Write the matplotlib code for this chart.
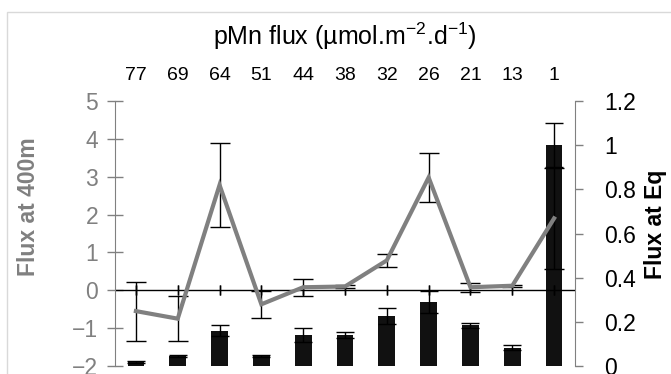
import matplotlib
matplotlib.use('Agg')
import matplotlib.pyplot as plt
from matplotlib.patches import Rectangle

plt.rcParams['font.family'] = ['Liberation Sans', 'DejaVu Sans']
plt.rcParams['mathtext.fontset'] = 'custom'
plt.rcParams['mathtext.rm'] = 'Liberation Sans'
plt.rcParams['mathtext.it'] = 'Liberation Sans:italic'
plt.rcParams['mathtext.bf'] = 'Liberation Sans:bold'

categories = ['77', '69', '64', '51', '44', '38', '32', '26', '21', '13', '1']
flux_400m = [-0.55, -0.75, 2.78, -0.37, 0.08, 0.10, 0.79, 2.98, 0.08, 0.12, 1.90]
flux_400m_err = [0.78, 0.60, 1.12, 0.35, 0.22, 0.03, 0.18, 0.65, 0.12, 0.03, 1.33]
flux_eq = [0.018, 0.047, 0.16, 0.047, 0.14, 0.14, 0.226, 0.288, 0.184, 0.083, 1.0]
flux_eq_err = [0.003, 0.004, 0.025, 0.004, 0.03, 0.012, 0.035, 0.05, 0.012, 0.01, 0.1]

GRAY = '#808080'
x = list(range(len(categories)))

fig = plt.figure(figsize=(6.71, 3.74), dpi=100)
ax = fig.add_axes([115 / 671, 8 / 374, 460 / 671, 265 / 374])
ax2 = ax.twinx()

# bars (right axis) go behind the line
ax.set_zorder(ax2.get_zorder() + 1)
ax.patch.set_visible(False)

ax2.bar(x, flux_eq, width=0.4, color='#111111', zorder=2)
ax2.errorbar(x, flux_eq, yerr=flux_eq_err, fmt='none', ecolor='black',
             elinewidth=1, capsize=6.5, capthick=1, zorder=3)
ax2.set_ylim(0, 1.2)
ax2.set_yticks([0, 0.2, 0.4, 0.6, 0.8, 1.0, 1.2])
ax2.set_yticklabels(['0', '0.2', '0.4', '0.6', '0.8', '1', '1.2'])

ax.errorbar(x, flux_400m, yerr=flux_400m_err, fmt='none', ecolor='black',
            elinewidth=1, capsize=7, capthick=1, zorder=3)
ax.plot(x, flux_400m, color=GRAY, linewidth=3, solid_joinstyle='miter', zorder=4)
ax.set_ylim(-2, 5)
ax.set_xlim(-0.5, len(categories) - 0.5)
ax.set_yticks(range(-2, 6))

# spines
for a in (ax, ax2):
    a.spines['top'].set_visible(False)
    a.spines['bottom'].set_visible(False)
ax.spines['right'].set_visible(False)
ax2.spines['left'].set_visible(False)
ax.spines['left'].set_color(GRAY)
ax2.spines['right'].set_color(GRAY)

# zero line with category ticks
ax.axhline(0, color='black', linewidth=1, zorder=2)
ax.set_xticks(x)
ax.tick_params(axis='x', labelbottom=False, bottom=False, top=False)
for xi in x:
    ax.plot([xi, xi], [0, 0], marker='|', markersize=7, color='black', zorder=2)

ax.tick_params(axis='y', direction='inout', length=12, width=1, color=GRAY,
               labelcolor=GRAY, labelsize=16.5, pad=6)
ax2.tick_params(axis='y', direction='out', length=6, width=1, color=GRAY,
                labelcolor='black', labelsize=16.5, pad=15)
ax2.tick_params(axis='x', bottom=False, labelbottom=False)

# category labels and title on top
top = ax.secondary_xaxis('top')
top.set_xticks(x)
top.set_xticklabels(categories)
top.tick_params(length=0, labelsize=14, pad=12)
top.spines['top'].set_visible(False)
top.set_xlabel('pMn flux (µmol.m$^{-2}$.d$^{-1}$)', fontsize=18, labelpad=16)

ax.set_ylabel('Flux at 400m', color=GRAY, fontsize=16.5, fontweight='bold')
ax.yaxis.label.set_verticalalignment('center')
ax.yaxis.set_label_coords(-0.189, 0.6)
ax2.set_ylabel('Flux at Eq', color='black', fontsize=16.5, fontweight='bold', rotation=90)
ax2.yaxis.label.set_verticalalignment('center')
ax2.yaxis.set_label_coords(1.176, 0.536)

# chart area border
fig.add_artist(Rectangle((7 / 671, -0.1), 1.0, 1.1 - 12 / 374, transform=fig.transFigure,
                         fill=False, edgecolor='#d9d9d9', linewidth=1))

fig.savefig('out.png', dpi=100)
